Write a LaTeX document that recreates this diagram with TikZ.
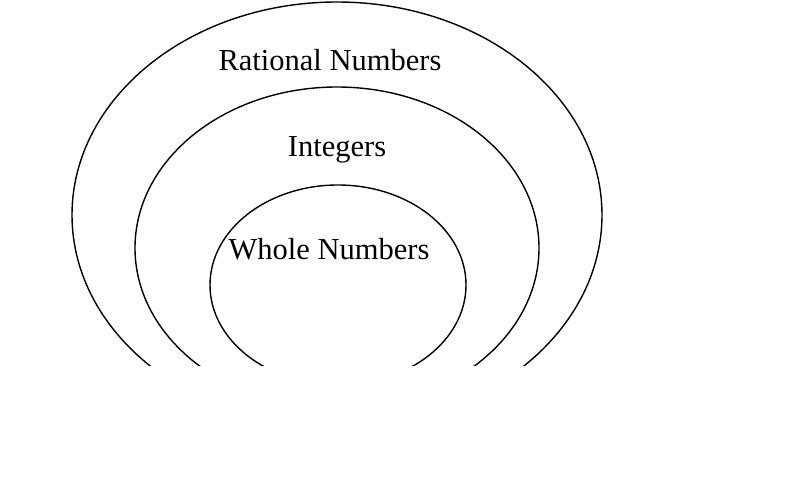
\documentclass[tikz,border=0pt]{standalone}
\usepackage{fontspec}
\setmainfont{Liberation Serif}
\begin{document}
\begin{tikzpicture}[x=1pt,y=-1pt,
  ring/.style={draw=black,line width=1.4pt},
  lbl/.style={font=\fontsize{30.5}{35}\selectfont,inner sep=0pt}]
\useasboundingbox (0,0) rectangle (800,487);
\begin{scope}
\clip (0,0) rectangle (800,365);
\draw[ring] (337,215) ellipse [x radius=265, y radius=213];
\draw[ring] (337,248) ellipse [x radius=202, y radius=161];
\draw[ring] (338,285) ellipse [x radius=128, y radius=100];
\end{scope}
\node[lbl] (rat) at (330,60) {Rational Numbers};
\node[lbl] (int) at (337,150) {Integers};
\node[lbl] (whole) at (329,249) {Whole Numbers};
\end{tikzpicture}
\end{document}
